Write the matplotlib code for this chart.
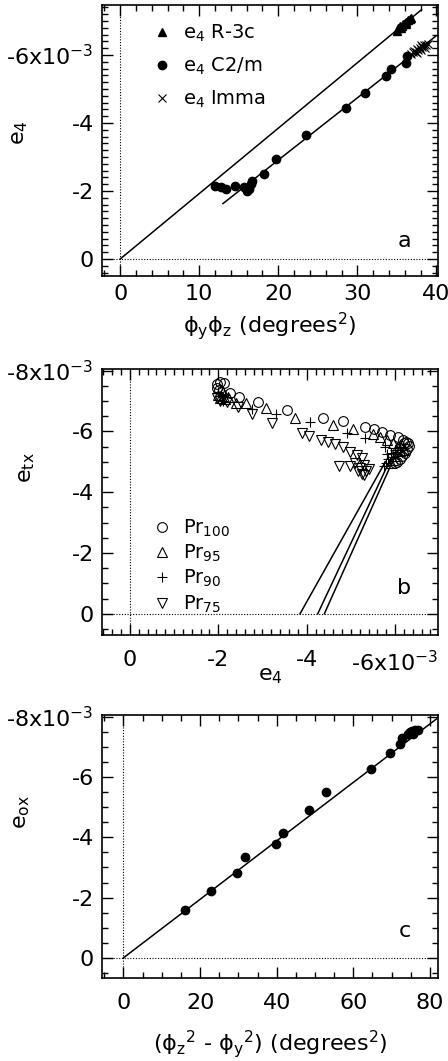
import matplotlib
matplotlib.use("Agg")
import matplotlib.pyplot as plt
from matplotlib.ticker import FixedLocator, FixedFormatter, MultipleLocator

plt.rcParams['font.family'] = ['DejaVu Sans']
plt.rcParams['mathtext.fontset'] = 'dejavusans'

# ---------------- Panel a data (units of 1e-3 for strain) ----------------
a_r3c_x = [35.0, 35.2, 35.4, 35.6, 35.8, 36.0, 36.2, 36.4, 36.6, 36.8, 35.5, 36.1]
a_r3c_y = [-6.72, -6.80, -6.84, -6.86, -6.92, -6.94, -6.98, -7.02, -7.05, -7.08, -6.78, -6.90]
a_c2m_x = [12.0, 12.7, 13.4, 14.5, 15.7, 16.0, 16.3, 16.5, 16.7, 18.2, 19.75, 23.5, 28.5,
           31.0, 33.6, 34.2, 36.2, 36.3]
a_c2m_y = [-2.15, -2.13, -2.07, -2.15, -2.13, -2.00, -2.07, -2.20, -2.30, -2.51, -2.95, -3.64,
           -4.45, -4.88, -5.38, -5.60, -5.75, -5.98]
a_imma_x = [36.8, 37.0, 37.2, 37.4, 37.5, 37.7, 37.9, 38.0, 38.2, 38.4, 38.5, 38.7, 38.9, 37.6, 38.1]
a_imma_y = [-6.02, -6.10, -6.12, -6.08, -6.18, -6.16, -6.22, -6.14, -6.24, -6.28, -6.22, -6.30, -6.32, -6.06, -6.30]
a_fit1_x = [0.0, 38.1]
a_fit1_y = [0.0, -7.33]
a_fit2_x = [13.0, 39.9]
a_fit2_y = [-1.63, -6.55]

# ---------------- Panel b data ----------------
b_pr100_x = [-1.98, -2.05, -2.12, -1.97, -2.02, -2.26, -2.47, -2.90, -3.56, -4.36, -4.83, -5.32,
             -5.52, -5.70, -5.89, -6.06, -6.17, -6.25, -6.30, -6.32, -6.28, -6.22, -6.15, -6.10,
             -6.05, -6.00, -6.20, -6.12]
b_pr100_y = [-7.55, -7.62, -7.60, -7.42, -7.35, -7.27, -7.14, -6.95, -6.70, -6.45, -6.34, -6.13,
             -6.06, -5.99, -5.88, -5.80, -5.73, -5.66, -5.60, -5.52, -5.42, -5.30, -5.20, -5.10,
             -5.00, -4.95, -5.60, -5.45]
b_pr95_x = [-2.00, -2.05, -2.10, -2.15, -2.23, -2.40, -2.62, -3.09, -3.74, -4.59, -5.04, -5.51,
            -5.66, -5.81, -5.95, -6.05, -6.10, -6.00, -5.95, -5.90, -6.15, -6.20]
b_pr95_y = [-7.20, -7.10, -7.30, -7.05, -7.14, -6.94, -6.92, -6.76, -6.43, -6.21, -6.06, -5.90,
            -5.82, -5.71, -5.60, -5.50, -5.35, -5.20, -5.05, -4.95, -5.55, -5.40]
b_pr90_x = [-2.00, -2.05, -2.10, -2.15, -2.76, -3.31, -4.07, -4.91, -5.32, -5.77, -5.81, -5.85,
            -5.80, -5.75, -5.90, -6.00, -6.05, -5.95, -6.10]
b_pr90_y = [-7.30, -7.15, -7.00, -7.20, -6.72, -6.57, -6.32, -5.95, -5.77, -5.49, -5.27, -5.10,
            -4.95, -4.85, -5.30, -5.40, -5.25, -5.15, -5.50]
b_pr75_x = [-1.98, -2.05, -2.12, -2.20, -2.45, -2.77, -3.21, -3.89, -4.06, -4.32, -4.49, -4.64,
            -4.83, -4.98, -5.13, -5.25, -4.72, -4.97, -5.10, -5.20, -5.30, -5.35, -5.25, -5.30,
            -5.40, -5.15]
b_pr75_y = [-7.10, -7.00, -7.05, -6.98, -6.81, -6.56, -6.28, -5.93, -5.85, -5.73, -5.66, -5.58,
            -5.47, -5.33, -5.22, -5.11, -4.86, -4.86, -4.95, -4.80, -4.90, -4.70, -4.60, -4.55,
            -4.75, -4.70]
b_fit1_x = [-3.85, -5.78]
b_fit1_y = [0.0, -5.00]
b_fit2_x = [-4.25, -5.90]
b_fit2_y = [0.0, -5.10]
b_fit3_x = [-4.40, -6.00]
b_fit3_y = [0.0, -5.20]

# ---------------- Panel c data ----------------
c_x = [16.1, 22.9, 29.7, 31.7, 39.7, 41.6, 48.4, 52.9, 64.5, 69.6, 72.2, 72.6, 74.4, 74.8,
       75.2, 75.7, 76.1, 77.0]
c_y = [-1.60, -2.21, -2.83, -3.35, -3.79, -4.15, -4.92, -5.50, -6.28, -6.80, -7.09, -7.28,
       -7.44, -7.50, -7.53, -7.42, -7.55, -7.55]
c_fit_x = [0.0, 81.7]
c_fit_y = [0.0, -7.93]

a_xticks = [0, 10, 20, 30, 40]
a_yticks = [0, -2, -4, -6]
a_ylabels = ['0', '-2', '-4', '-6x10$^{-3}$']
b_xticks = [0, -2, -4, -6]
b_xlabels = ['0', '-2', '-4', '-6x10$^{-3}$']
b_yticks = [0, -2, -4, -6, -8]
b_ylabels = ['0', '-2', '-4', '-6', '-8x10$^{-3}$']
c_xticks = [0, 20, 40, 60, 80]
c_yticks = [0, -2, -4, -6, -8]
c_ylabels = ['0', '-2', '-4', '-6', '-8x10$^{-3}$']

FS = 16
fig = plt.figure(figsize=(4.48, 10.61), dpi=100)
W, H = 448, 1061

def make_ax(top, bottom):
    return fig.add_axes([102 / W, 1 - bottom / H, 336 / W, (bottom - top) / H])

def style(ax, xminor, yminor, xpad):
    for s in ax.spines.values():
        s.set_linewidth(1.2)
    ax.tick_params(which='both', direction='in', top=True, right=True, labelsize=FS, width=1.0)
    ax.tick_params(axis='y', pad=6)
    ax.tick_params(axis='x', pad=xpad)
    ax.tick_params(which='major', length=8)
    ax.tick_params(which='minor', length=4.5)
    ax.xaxis.set_minor_locator(MultipleLocator(xminor))
    ax.yaxis.set_minor_locator(MultipleLocator(yminor))

def zero_lines(ax):
    ax.axhline(0, color='k', lw=0.8, ls=(0, (1, 1.5)))
    ax.axvline(0, color='k', lw=0.8, ls=(0, (1, 1.5)))

# Panel a
ax = make_ax(5, 276)
zero_lines(ax)
ax.plot(a_fit1_x, a_fit1_y, color='k', lw=1.1)
ax.plot(a_fit2_x, a_fit2_y, color='k', lw=1.1)
ax.plot(a_r3c_x, a_r3c_y, '^', color='k', ms=6, ls='none', label='e$_4$ R-3c')
ax.plot(a_c2m_x, a_c2m_y, 'o', color='k', ms=6, ls='none', label='e$_4$ C2/m')
ax.plot(a_imma_x, a_imma_y, 'x', color='k', ms=6, mew=0.8, ls='none', label='e$_4$ Imma')
ax.set_xlim(-2.3, 40.2)
ax.set_ylim(0.5, -7.47)
ax.xaxis.set_major_locator(FixedLocator(a_xticks))
ax.yaxis.set_major_locator(FixedLocator(a_yticks))
ax.yaxis.set_major_formatter(FixedFormatter(a_ylabels))
style(ax, 2, 0.2, 6)
ax.set_xlabel('ϕ$_\\mathrm{y}$ϕ$_\\mathrm{z}$ (degrees$^2$)', fontsize=FS, va='top')
ax.xaxis.set_label_coords(0.5, -0.125)
ax.set_ylabel('e$_4$', fontsize=FS)
ax.yaxis.set_label_coords(-0.214, 0.53)
ax.legend(loc='upper left', bbox_to_anchor=(0.12, 0.962), frameon=False, fontsize=14,
          handletextpad=0.5, labelspacing=0.6, handlelength=1.2, borderaxespad=0)
ax.text(0.9, 0.13, 'a', transform=ax.transAxes, fontsize=FS, ha='center', va='center')

# Panel b
ax = make_ax(369, 635)
zero_lines(ax)
for fx, fy in [(b_fit1_x, b_fit1_y), (b_fit2_x, b_fit2_y), (b_fit3_x, b_fit3_y)]:
    ax.plot(fx, fy, color='k', lw=1.1)
mk = dict(mfc='none', mec='k', mew=0.8, ms=7, ls='none')
ax.plot(b_pr100_x, b_pr100_y, 'o', label='Pr$_{100}$', **mk)
ax.plot(b_pr95_x, b_pr95_y, '^', label='Pr$_{95}$', **mk)
ax.plot(b_pr90_x, b_pr90_y, '+', label='Pr$_{90}$', **mk)
ax.plot(b_pr75_x, b_pr75_y, 'v', label='Pr$_{75}$', **mk)
ax.set_xlim(0.63, -6.97)
ax.set_ylim(0.7, -8.05)
ax.xaxis.set_major_locator(FixedLocator(b_xticks))
ax.xaxis.set_major_formatter(FixedFormatter(b_xlabels))
ax.yaxis.set_major_locator(FixedLocator(b_yticks))
ax.yaxis.set_major_formatter(FixedFormatter(b_ylabels))
style(ax, 0.2, 0.5, 11)
ax.set_xlabel('e$_4$', fontsize=FS, va='top')
ax.xaxis.set_label_coords(0.5, -0.115)
ax.set_ylabel('e$_\\mathrm{tx}$', fontsize=FS)
ax.yaxis.set_label_coords(-0.193, 0.628)
ax.legend(loc='upper left', bbox_to_anchor=(0.12, 0.47), frameon=False, fontsize=14,
          handletextpad=0.5, labelspacing=0.2, handlelength=1.2, borderaxespad=0)
ax.text(0.9, 0.177, 'b', transform=ax.transAxes, fontsize=FS, ha='center', va='center')

# Panel c
ax = make_ax(715, 978)
zero_lines(ax)
ax.plot(c_fit_x, c_fit_y, color='k', lw=1.1)
ax.plot(c_x, c_y, 'o', color='k', ms=6, ls='none')
ax.set_xlim(-5.6, 82.1)
ax.set_ylim(0.67, -8.06)
ax.xaxis.set_major_locator(FixedLocator(c_xticks))
ax.yaxis.set_major_locator(FixedLocator(c_yticks))
ax.yaxis.set_major_formatter(FixedFormatter(c_ylabels))
style(ax, 5, 0.5, 11)
ax.set_xlabel('(ϕ$_\\mathrm{z}$$^2$ - ϕ$_\\mathrm{y}$$^2$) (degrees$^2$)', fontsize=FS, va='top')
ax.xaxis.set_label_coords(0.5, -0.19)
ax.set_ylabel('e$_\\mathrm{ox}$', fontsize=FS)
ax.yaxis.set_label_coords(-0.208, 0.63)
ax.text(0.9, 0.18, 'c', transform=ax.transAxes, fontsize=FS, ha='center', va='center')

fig.savefig('out.png', dpi=100)
